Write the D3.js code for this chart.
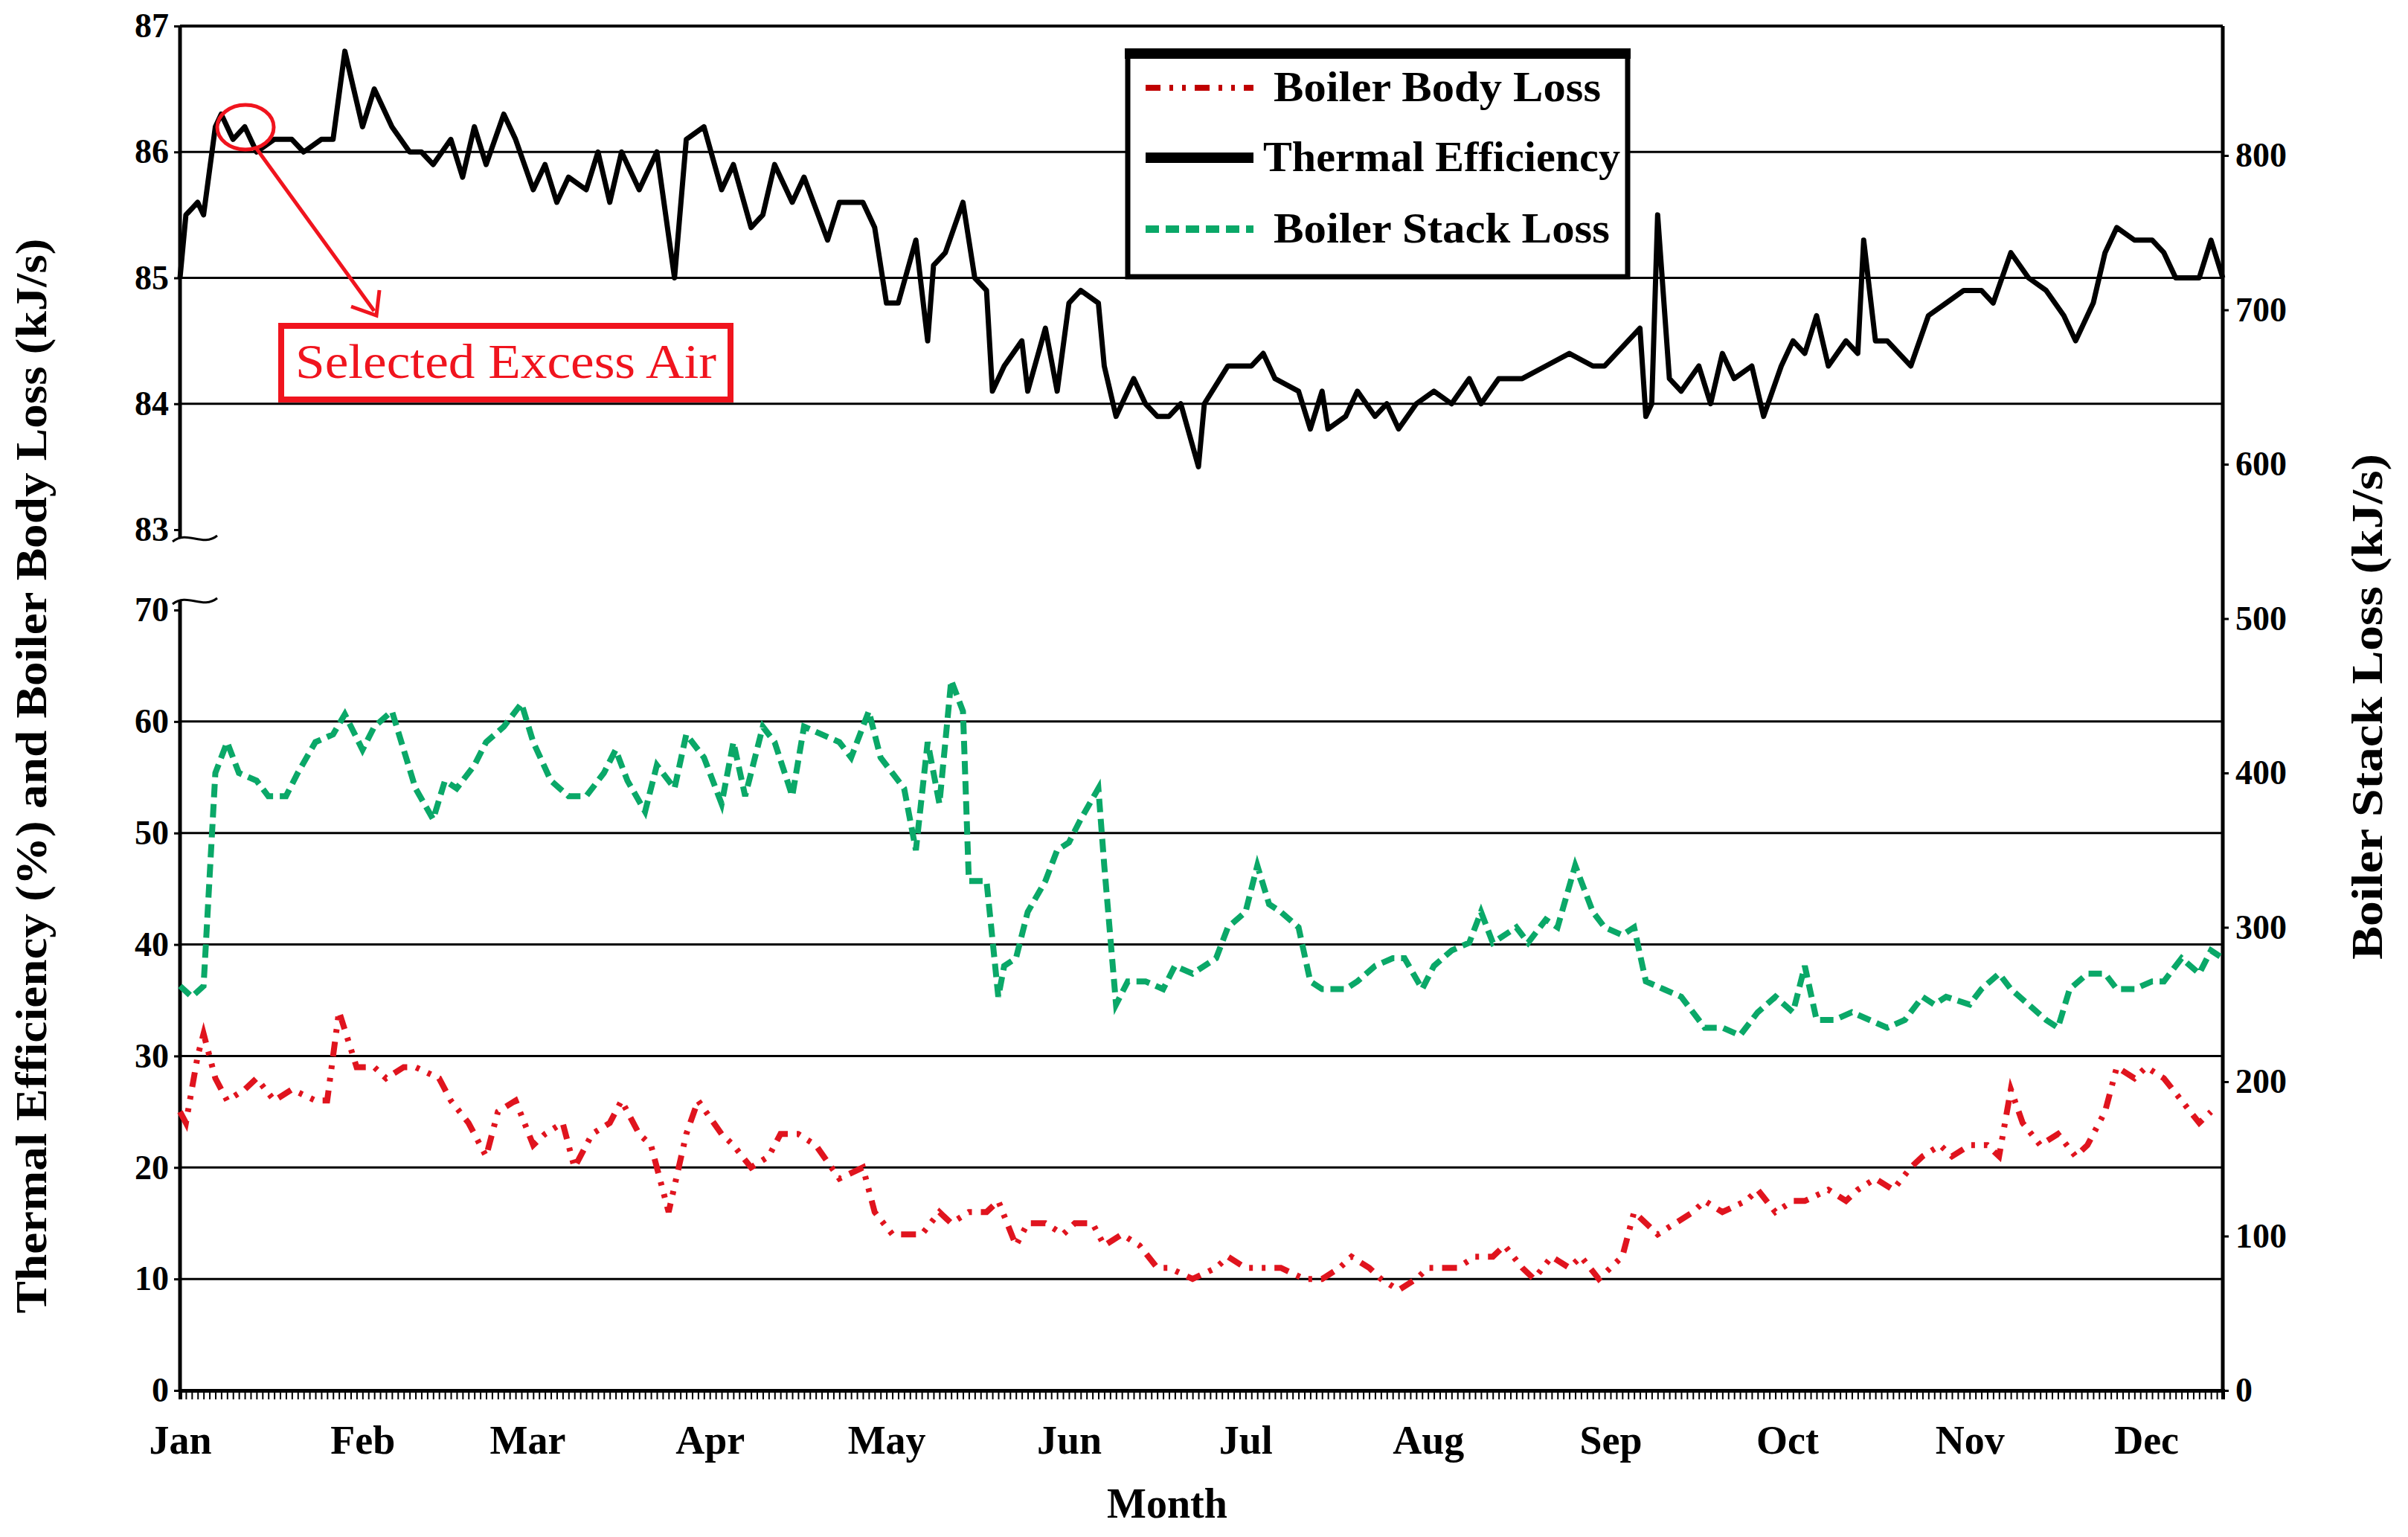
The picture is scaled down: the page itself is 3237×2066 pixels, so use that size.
<!DOCTYPE html>
<html><head><meta charset="utf-8">
<script src="https://cdn.jsdelivr.net/npm/d3@7/dist/d3.min.js"></script>
<style>body{margin:0;background:#fff}svg{display:block}text{font-family:"Liberation Serif","Times New Roman",serif}</style>
</head><body><svg id="c" width="3237" height="2066"></svg>
<script>
const months=["Jan","Feb","Mar","Apr","May","Jun","Jul","Aug","Sep","Oct","Nov","Dec"];
const monthStartDays=[0,31,59,90,120,151,181,212,243,273,304,334];
const leftUpperTicks=[83,84,85,86,87];
const leftLowerTicks=[0,10,20,30,40,50,60,70];
const rightTicks=[0,100,200,300,400,500,600,700,800];

const effDays=[0,1,3,4,6,7,9,11,13,16,19,21,24,26,28,31,33,36,39,41,43,46,48,50,52,55,57,60,62,64,66,69,71,73,75,78,81,84,86,89,92,94,97,99,101,104,106,110,112,116,118,120,122,125,127,128,130,133,135,137,138,140,143,144,147,149,151,153,156,157,159,162,164,166,168,170,173,174,178,182,184,186,190,192,194,195,198,200,203,205,207,210,213,216,219,221,224,228,232,236,240,242,248,249,250,251,253,255,258,260,262,264,267,269,272,274,276,278,280,283,285,286,288,290,294,297,300,303,306,308,311,314,317,320,322,325,327,329,332,335,337,339,341,343,345,347];
const effVals=[85.0,85.5,85.6,85.5,86.2,86.3,86.1,86.2,86.0,86.1,86.1,86.0,86.1,86.1,86.8,86.2,86.5,86.2,86.0,86.0,85.9,86.1,85.8,86.2,85.9,86.3,86.1,85.7,85.9,85.6,85.8,85.7,86.0,85.6,86.0,85.7,86.0,85.0,86.1,86.2,85.7,85.9,85.4,85.5,85.9,85.6,85.8,85.3,85.6,85.6,85.4,84.8,84.8,85.3,84.5,85.1,85.2,85.6,85.0,84.9,84.1,84.3,84.5,84.1,84.6,84.1,84.8,84.9,84.8,84.3,83.9,84.2,84.0,83.9,83.9,84.0,83.5,84.0,84.3,84.3,84.4,84.2,84.1,83.8,84.1,83.8,83.9,84.1,83.9,84.0,83.8,84.0,84.1,84.0,84.2,84.0,84.2,84.2,84.3,84.4,84.3,84.3,84.6,83.9,84.0,85.5,84.2,84.1,84.3,84.0,84.4,84.2,84.3,83.9,84.3,84.5,84.4,84.7,84.3,84.5,84.4,85.3,84.5,84.5,84.3,84.7,84.8,84.9,84.9,84.8,85.2,85.0,84.9,84.7,84.5,84.8,85.2,85.4,85.3,85.3,85.2,85.0,85.0,85.0,85.3,85.0];

const stackDays=[0,2,4,6,8,10,13,15,18,20,23,26,28,31,33,36,38,40,43,45,47,50,52,55,58,60,63,66,69,72,74,76,79,81,84,86,89,92,94,96,99,101,104,106,109,112,114,117,119,121,123,125,127,129,131,133,134,137,139,140,142,144,147,149,151,153,156,157,159,161,164,167,169,172,176,178,181,183,185,187,190,192,194,198,200,203,206,208,211,213,216,219,221,223,227,229,232,234,237,240,242,245,247,249,252,255,259,262,265,268,271,274,276,278,281,284,287,290,293,296,298,300,304,306,309,311,314,317,319,321,324,327,329,332,335,337,340,343,345,347];
const stackVals=[262,255,262,400,420,400,395,385,385,400,420,425,438,415,430,440,415,390,370,395,390,405,420,430,445,420,395,385,385,400,415,395,375,405,390,425,410,380,420,385,430,420,385,430,425,420,410,440,410,400,390,350,420,380,460,440,330,330,255,275,280,310,330,350,355,370,390,340,250,265,265,260,275,270,280,300,310,340,315,310,300,265,260,260,265,275,280,280,260,275,285,290,310,290,300,290,305,300,340,310,300,295,300,265,260,255,235,235,230,245,255,245,275,240,240,245,240,235,240,255,250,255,250,260,270,260,250,240,235,260,270,270,260,260,265,265,280,270,285,280];

const bodyDays=[0,1,3,4,6,8,11,13,16,19,23,25,27,30,33,35,38,40,44,46,49,52,54,57,60,62,65,67,70,73,75,78,80,83,86,88,92,94,97,100,102,105,108,112,116,118,121,123,126,129,131,134,137,139,142,144,147,150,152,155,157,160,163,166,168,172,176,178,181,184,187,191,194,197,199,202,204,207,210,212,215,217,220,223,225,228,230,233,236,238,241,243,245,247,249,251,254,257,259,262,266,268,271,274,276,280,283,285,288,291,294,296,299,301,304,307,309,311,313,316,319,322,324,327,329,332,334,337,340,343,345];
const bodyVals=[25,24,30,32,28,26,27,28,26,27,26,26,34,29,29,28,29,29,28,26,24,21,25,26,22,23,24,20,23,24,26,23,22,16,23,26,23,22,20,21,23,23,22,19,20,16,14,14,14,16,15,16,16,17,13,15,15,14,15,15,13,14,13,11,11,10,11,12,11,11,11,10,10,11,12,11,10,9,10,11,11,11,12,12,13,11,10,12,11,12,10,11,12,16,15,14,15,16,17,16,17,18,16,17,17,18,17,18,19,18,20,21,22,21,22,22,21,27,24,22,23,21,22,25,29,28,29,28,26,24,25];

const svg=d3.select("#c");
const L=242,R=2988,T=35,B=1869;
const x=d3.scaleLinear().domain([0,347]).range([L,R]);
const yU=d3.scaleLinear().domain([83,87]).range([712,T]);
const yL=d3.scaleLinear().domain([0,70]).range([B,820]);
const yR=d3.scaleLinear().domain([0,800]).range([B,209]);

const g=svg.append("g");
[84,85,86].forEach(v=>g.append("line").attr("x1",L).attr("x2",R).attr("y1",yU(v)).attr("y2",yU(v)).attr("stroke","#000").attr("stroke-width",3));
[10,20,30,40,50,60].forEach(v=>g.append("line").attr("x1",L).attr("x2",R).attr("y1",yL(v)).attr("y2",yL(v)).attr("stroke","#000").attr("stroke-width",3));
g.append("line").attr("x1",L).attr("x2",R).attr("y1",T).attr("y2",T).attr("stroke","#000").attr("stroke-width",4);

const au=svg.append("g").attr("transform",`translate(${L},0)`).call(d3.axisLeft(yU).tickValues(leftUpperTicks).tickFormat(d3.format("d")).tickSize(8));
const al=svg.append("g").attr("transform",`translate(${L},0)`).call(d3.axisLeft(yL).tickValues(leftLowerTicks).tickFormat(d3.format("d")).tickSize(8));
[au,al].forEach(a=>{a.select(".domain").remove();a.selectAll("line").attr("stroke-width",3);a.selectAll("text").attr("font-size",46).style("font-family","Liberation Serif").style("font-weight","bold").attr("dx",-4);});
svg.append("line").attr("x1",L).attr("x2",L).attr("y1",T).attr("y2",724).attr("stroke","#000").attr("stroke-width",5);
svg.append("line").attr("x1",L).attr("x2",L).attr("y1",808).attr("y2",B).attr("stroke","#000").attr("stroke-width",5);
[724,808].forEach(yy=>svg.append("path").attr("d",`M${L-10},${yy+4} C${L+10},${yy-12} ${L+30},${yy+12} ${L+50},${yy-4}`).attr("fill","none").attr("stroke","#000").attr("stroke-width",3));

const ar=svg.append("g").attr("transform",`translate(${R},0)`).call(d3.axisRight(yR).tickValues(rightTicks).tickFormat(d3.format("d")).tickSize(8));
ar.select(".domain").remove();ar.selectAll("line").attr("stroke-width",3);
ar.selectAll("text").attr("font-size",46).style("font-family","Liberation Serif").style("font-weight","bold").attr("dx",6);
svg.append("line").attr("x1",R).attr("x2",R).attr("y1",T).attr("y2",B).attr("stroke","#000").attr("stroke-width",5);

const ab=svg.append("g").attr("transform",`translate(0,${B})`).call(d3.axisBottom(x).tickValues(d3.range(0,348)).tickFormat("").tickSize(12));
ab.select(".domain").attr("stroke-width",5);ab.selectAll("line").attr("stroke-width",2);
const am=svg.append("g").attr("transform",`translate(0,${B})`).call(d3.axisBottom(x).tickValues(monthStartDays).tickFormat((d,i)=>months[i]).tickSize(0));
am.select(".domain").remove();
am.selectAll("text").attr("font-size",54).style("font-family","Liberation Serif").style("font-weight","bold").attr("dy",82);

svg.append("path").datum(effDays.map((d,i)=>[d,effVals[i]])).attr("d",d3.line().x(d=>x(d[0])).y(d=>yU(d[1]))).attr("fill","none").attr("stroke","#000").attr("stroke-width",7).attr("stroke-linejoin","round");
svg.append("path").datum(stackDays.map((d,i)=>[d,stackVals[i]])).attr("d",d3.line().x(d=>x(d[0])).y(d=>yR(d[1]))).attr("fill","none").attr("stroke","#0aa868").attr("stroke-width",8).attr("stroke-dasharray","18,9");
svg.append("path").datum(bodyDays.map((d,i)=>[d,bodyVals[i]])).attr("d",d3.line().x(d=>x(d[0])).y(d=>yL(d[1]))).attr("fill","none").attr("stroke","#e0141e").attr("stroke-width",8).attr("stroke-dasharray","20,12,5,12,5,12");

const lg=svg.append("g");
lg.append("rect").attr("x",1516).attr("y",72).attr("width",672).attr("height",300).attr("fill","#fff").attr("stroke","#000").attr("stroke-width",7);
lg.append("line").attr("x1",1512).attr("x2",2192).attr("y1",72).attr("y2",72).attr("stroke","#000").attr("stroke-width",14);
const items=[["Boiler Body Loss","#c00000","20,12,5,12,5,12",8,118],["Thermal Efficiency","#000","none",14,212],["Boiler Stack Loss","#0aa868","18,9",10,308]];
items.forEach(([t,c,da,w,yy])=>{
  lg.append("line").attr("x1",1540).attr("x2",1685).attr("y1",yy).attr("y2",yy).attr("stroke",c).attr("stroke-width",w).attr("stroke-dasharray",da);
  lg.append("text").attr("x",t==="Thermal Efficiency"?1698:1712).attr("y",yy+18).attr("font-size",56).style("font-weight","bold")
    .attr("textLength",t==="Thermal Efficiency"?480:t==="Boiler Body Loss"?440:452).attr("lengthAdjust","spacingAndGlyphs").text(t);
});

svg.append("ellipse").attr("cx",330).attr("cy",171).attr("rx",38).attr("ry",30).attr("fill","none").attr("stroke","#f0141e").attr("stroke-width",5);
svg.append("line").attr("x1",345).attr("y1",200).attr("x2",503).attr("y2",418).attr("stroke","#f0141e").attr("stroke-width",5);
svg.append("path").attr("d","M472,412 L506,424 L510,390").attr("fill","none").attr("stroke","#f0141e").attr("stroke-width",5);
svg.append("rect").attr("x",378).attr("y",438).attr("width",604).attr("height",99).attr("fill","#fff").attr("stroke","#f0141e").attr("stroke-width",8);
svg.append("text").attr("x",680).attr("y",508).attr("text-anchor","middle").attr("font-size",66).style("font-weight","normal").attr("fill","#f0141e").attr("textLength",566).attr("lengthAdjust","spacingAndGlyphs").text("Selected Excess Air");

svg.append("text").attr("transform","translate(62,1043) rotate(-90)").attr("text-anchor","middle").attr("font-size",60).style("font-weight","bold").attr("textLength",1445).attr("lengthAdjust","spacingAndGlyphs").text("Thermal Efficiency (%) and Boiler Body Loss (kJ/s)");
svg.append("text").attr("transform","translate(3202,950) rotate(-90)").attr("text-anchor","middle").attr("font-size",60).style("font-weight","bold").attr("textLength",680).attr("lengthAdjust","spacingAndGlyphs").text("Boiler Stack Loss (kJ/s)");
svg.append("text").attr("x",1569).attr("y",2040).attr("text-anchor","middle").attr("font-size",56).style("font-weight","bold").text("Month");
</script></body></html>
